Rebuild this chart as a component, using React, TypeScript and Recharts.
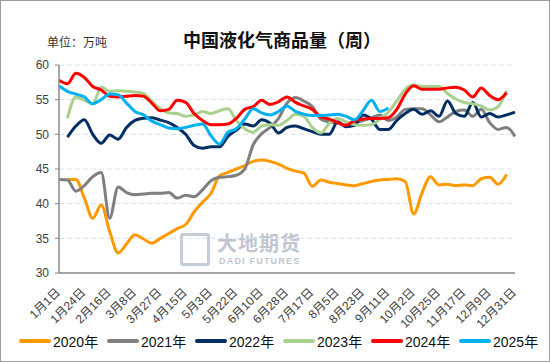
import { LineChart, Line, XAxis, YAxis, CartesianGrid } from "recharts";

// 周度日期（每3周标一次）
const WEEKS = [
  "1月1日", "1月9日", "1月16日", "1月24日", "1月31日", "2月8日", "2月16日", "2月22日", "3月1日",
  "3月8日", "3月14日", "3月21日", "3月27日", "4月3日", "4月9日", "4月15日", "4月21日", "4月27日",
  "5月3日", "5月9日", "5月16日", "5月22日", "5月28日", "6月4日", "6月10日", "6月16日", "6月22日",
  "6月28日", "7月4日", "7月11日", "7月17日", "7月23日", "7月30日", "8月5日", "8月11日", "8月17日",
  "8月23日", "8月29日", "9月4日", "9月11日", "9月18日", "9月25日", "10月2日", "10月10日", "10月17日",
  "10月25日", "11月1日", "11月9日", "11月17日", "11月24日", "12月2日", "12月9日", "12月16日", "12月23日",
  "12月31日",
];

const Y_TICKS = [30, 35, 40, 45, 50, 55, 60];

const S2020 = [
  null, 43.5, 43.5, 40.8, 37.9, 39.8, 36.0, 32.9, 34.2, 35.5, 34.9, 34.3, 35.0, 35.7, 36.4, 37.0,
  38.8, 40.2, 41.5, 44.0, 44.5, 45.0, 45.5, 46.1, 46.3, 46.1, 45.7, 45.1, 44.7, 44.4, 42.5, 43.4,
  43.1, 42.9, 42.7, 42.6, 42.9, 43.2, 43.4, 43.5, 43.6, 43.2, 38.5, 41.6, 43.9, 42.7, 42.8, 42.6,
  42.7, 42.6, 43.6, 43.8, 42.8, 44.2, null,
];
const S2021 = [
  43.5, 43.4, 41.8, 42.6, 43.9, 44.5, 37.9, 42.4, 41.6, 41.3, 41.4, 41.5, 41.5, 41.6, 40.8, 41.2,
  41.0, 42.0, 43.3, 43.8, 43.9, 44.1, 45.0, 48.5, 50.1, 51.0, 52.3, 54.5, 55.3, 54.8, 54.0, 52.2,
  51.8, 51.6, 51.3, 51.6, 52.0, 52.4, 52.8, 52.0, 52.5, 53.6, 53.7, 53.7, 52.8, 51.8, 52.5, 53.3,
  53.5, 52.6, 53.6, 51.7, 50.7, 51.0, 49.7,
];
const S2022 = [
  null, 49.6, 51.2, 52.1, 50.0, 48.7, 49.9, 49.3, 51.0, 52.0, 52.3, 52.4, 52.05, 51.7, 51.0, 50.0,
  48.4, 48.0, 48.2, 48.2, 49.7, 50.6, 51.5, 51.2, 52.1, 51.6, 50.2, 51.0, 51.2, 50.8, 50.4, 50.0,
  50.0, 51.8, 51.1, 51.3, 52.8, 52.2, 50.7, 50.7, 52.0, 53.0, 53.6, 52.9, 53.4, 52.6, 54.8, 53.0,
  52.6, 54.6, 52.5, 53.0, 52.5, 52.8, 53.2,
];
const S2023 = [
  null, 52.3, 55.4, 54.9, 54.4, 56.8, 56.2, 56.3, 56.2, 56.1, 55.9, 54.8, 53.7, 53.1, 53.0, 52.6,
  52.8, 53.3, 53.0, 53.4, 53.7, 52.0, 50.8, 50.3, 51.2, 51.4, 51.3, 52.0, 52.9, 52.6, 51.0, 50.2,
  51.6, 52.3, 51.8, 51.4, 51.3, 51.4, 52.2, 53.2, 54.8, 56.5, 57.1, 56.9, 56.9, 56.9, 55.9, 55.1,
  54.6, 54.4, 54.1, 53.5, 54.0, 56.3, null,
];
const S2024 = [
  57.8, 57.3, 58.8, 58.2, 56.9, 56.4, 55.5, 55.4, 55.5, 55.6, 55.5, 54.5, 53.4, 53.6, 54.9, 54.6,
  53.0, 52.0, 51.4, 51.4, 51.5, 52.3, 53.6, 54.0, 54.9, 54.3, 54.7, 55.4, 54.6, 54.1, 53.6, 52.5,
  52.2, 51.7, 51.3, 52.0, 52.2, 52.3, 52.3, 52.4, 53.6, 55.8, 57.0, 56.5, 56.5, 56.5, 56.7, 56.8,
  56.4, 55.4, 56.7, 55.6, 55.0, 56.0, null,
];
const S2025 = [
  57.0, 56.2, 55.8, 55.4, 54.4, 55.0, 55.8, 55.7, 54.5, 53.3, 52.8, 51.9, 51.4, 50.9, 50.8, 51.0,
  51.3, 51.5, 49.8, 48.6, 50.3, 50.8, 52.2, 53.7, 53.1, 52.8, 53.3, 54.1, 53.3, 52.9, 52.7, 52.7,
  52.8, 52.9, 52.6, 52.1, 53.4, 54.9, 53.3, 53.8,
];

const SERIES = [
  { key: "y2020", name: "2020年", color: "#ff9900", values: S2020 },
  { key: "y2021", name: "2021年", color: "#7f7f7f", values: S2021 },
  { key: "y2022", name: "2022年", color: "#002d62", values: S2022 },
  { key: "y2023", name: "2023年", color: "#a9d18e", values: S2023 },
  { key: "y2024", name: "2024年", color: "#ff0000", values: S2024 },
  { key: "y2025", name: "2025年", color: "#00b0f0", values: S2025 },
];

const FONT = '"Liberation Sans", Arial, "Noto Sans CJK SC", sans-serif';

const rows = WEEKS.map((d, i) => {
  const row: Record<string, string | number | null> = { date: d };
  for (const s of SERIES) row[s.key] = s.values[i] ?? null;
  return row;
});

function XTick(props: any) {
  const { x, y, payload } = props;
  return (
    <text
      transform={`translate(${x + 2},${y + 12}) rotate(-45)`}
      textAnchor="end"
      fontSize={12}
      fontFamily={FONT}
      fill="#404040"
    >
      {payload.value}
    </text>
  );
}

export default function App() {
  return (
    <div style={{ position: "absolute", left: 0, top: 0, width: 550, height: 362, background: "#fff", overflow: "hidden" }}>
      {/* watermark */}
      <div style={{ position: "absolute", left: 180, top: 233, width: 30, height: 33, border: "3px solid #c3ccd8", borderRadius: 3, boxSizing: "border-box" }} />
      <div style={{ position: "absolute", left: 217, top: 231, fontSize: 20, fontFamily: '"Noto Sans CJK SC", sans-serif', fontWeight: 700, color: "#bfc6cf", lineHeight: "24px", letterSpacing: 1 }}>
        大地期货
      </div>
      <div style={{ position: "absolute", left: 219, top: 256, fontSize: 9, fontFamily: FONT, fontWeight: 700, color: "#bfc6cf", letterSpacing: 1.2, lineHeight: "10px" }}>
        DADI FUTURES
      </div>

      <div style={{ position: "absolute", left: 0, top: 0 }}>
        <LineChart width={550} height={362} data={rows} margin={{ top: 65, right: 35, left: 0, bottom: 29 }}>
          <CartesianGrid vertical={false} stroke="#d6e3f0" strokeDasharray="5 3" />
          <XAxis
            dataKey="date"
            interval={2}
            height={60}
            tickLine={false}
            axisLine={{ stroke: "#8a8a8a", strokeWidth: 1.5 }}
            tick={(p: any) => <XTick {...p} />}
          />
          <YAxis
            width={59}
            domain={[30, 60]}
            ticks={Y_TICKS}
            interval={0}
            tickSize={4}
            tickMargin={6}
            tickLine={{ stroke: "#8a8a8a" }}
            axisLine={{ stroke: "#8a8a8a", strokeWidth: 1.5 }}
            tick={{ fontSize: 12, fill: "#404040", fontFamily: FONT }}
          />
          {SERIES.map((s) => (
            <Line
              key={s.key}
              dataKey={s.key}
              name={s.name}
              type="monotone"
              stroke={s.color}
              strokeWidth={3}
              dot={false}
              activeDot={false}
              isAnimationActive={false}
            />
          ))}
        </LineChart>
      </div>

      <div style={{ position: "absolute", left: 47, top: 34, fontSize: 12, fontFamily: '"Noto Sans CJK SC", sans-serif', color: "#333", lineHeight: "16px" }}>
        单位：万吨
      </div>
      <div style={{ position: "absolute", left: 183, top: 27, fontSize: 18, fontFamily: '"Noto Sans CJK SC", sans-serif', fontWeight: 700, color: "#111", lineHeight: "24px" }}>
        中国液化气商品量（周）
      </div>

      {/* legend */}
      <div style={{ position: "absolute", left: 19, top: 331, display: "flex" }}>
        {SERIES.map((s) => (
          <div key={s.key} style={{ width: 88, display: "flex", alignItems: "center", height: 20 }}>
            <div style={{ width: 32, height: 3.5, background: s.color, borderRadius: 2, marginRight: 2 }} />
            <span style={{ fontSize: 14, fontFamily: FONT, color: "#111" }}>{s.name}</span>
          </div>
        ))}
      </div>

      <div style={{ position: "absolute", inset: 0, border: "1px solid #9c9c9c", pointerEvents: "none" }} />
    </div>
  );
}
